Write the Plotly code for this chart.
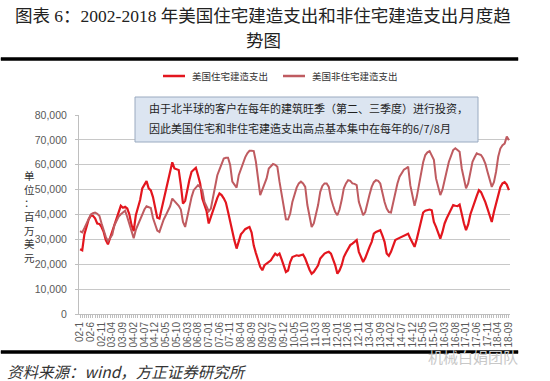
import plotly.graph_objects as go

# ---------------- data (millions of USD, monthly 2002-01 .. 2018-09) ----------------
residential = [
    26000, 25600, 32000, 35500, 38000, 39500, 39500, 38500, 36400, 36200, 35000, 33000,  # 2002
    29700, 28000, 30500, 33000, 35500, 37700, 41000, 43500, 42700, 43100, 42400, 40000,  # 2003
    35700, 33300, 39700, 43000, 45800, 50500, 52000, 53400, 50500, 49700, 47000, 42500,  # 2004
    38700, 38400, 42000, 45800, 50500, 54000, 57000, 61000, 58500, 58200, 57900, 51800,  # 2005
    44400, 45500, 50000, 54000, 57200, 58000, 58800, 55800, 52500, 46400, 43500, 41300,  # 2006
    36400, 39000, 42400, 45000, 46700, 48500, 47800, 46500, 44800, 41100, 37000, 33000,  # 2007
    29500, 26300, 29700, 32000, 33000, 34100, 34600, 35000, 32700, 27500, 24500, 22000,  # 2008
    19000, 17600, 19600, 20300, 20900, 21600, 23000, 24300, 23600, 24300, 22000, 19600,  # 2009
    16900, 17500, 20900, 22900, 23300, 23600, 23400, 23700, 23900, 22300, 19600, 17800,  # 2010
    16200, 16900, 18200, 19600, 22300, 23300, 24300, 24700, 25000, 24300, 22000, 19600,  # 2011
    16200, 17500, 19600, 22900, 24600, 26300, 27700, 28300, 29000, 29700, 25000, 22500,  # 2012
    20900, 22500, 25000, 27000, 29000, 32300, 33000, 33300, 33700, 31500, 29000, 24300,  # 2013
    23400, 25000, 27000, 29700, 30200, 30600, 31200, 31700, 32000, 32300, 30300, 28500,  # 2014
    27000, 30000, 33500, 37000, 40800, 41500, 41700, 42000, 41700, 37000, 35000, 33000,  # 2015
    30300, 33000, 36400, 38500, 40400, 42000, 43800, 43500, 43400, 44000, 39700, 36500,  # 2016
    33700, 36000, 40000, 43000, 45000, 47500, 49800, 49000, 47100, 45000, 42400, 39500,  # 2017
    37000, 41000, 44000, 47100, 51000, 52500, 53000, 52000, 49800,                       # 2018
]

nonresidential = [
    33300, 32800, 34500, 36500, 38500, 40000, 40500, 40800, 40300, 39500, 36500, 33500,  # 2002
    31000, 29300, 30500, 31800, 35700, 37500, 39200, 40100, 40800, 41500, 39000, 36000,  # 2003
    32500, 30500, 33800, 36000, 37900, 40600, 42000, 43300, 43000, 42600, 38600, 35500,  # 2004
    33500, 33000, 35700, 38000, 39700, 41500, 43300, 46400, 45500, 44800, 43500, 42000,  # 2005
    37000, 35000, 39000, 43800, 47000, 49800, 51000, 51800, 51000, 49800, 45100, 43000,  # 2006
    41300, 42400, 47000, 51500, 55800, 58000, 59900, 62500, 62800, 62800, 59900, 53200,  # 2007
    52000, 50800, 55800, 58500, 61200, 63000, 64600, 65600, 65600, 65500, 61200, 54500,  # 2008
    47800, 50000, 52500, 54500, 58500, 59500, 60300, 60000, 59200, 53200, 48500, 43800,  # 2009
    38100, 38000, 40400, 45000, 48500, 50800, 52500, 53200, 52500, 51100, 43800, 39000,  # 2010
    35000, 36400, 40000, 43800, 49100, 51500, 52500, 52500, 51100, 46400, 43500, 41000,  # 2011
    39700, 42000, 45800, 50500, 52500, 53800, 53500, 52500, 52300, 51800, 45100, 42000,  # 2012
    39700, 41000, 45100, 48000, 51100, 53000, 53800, 53500, 52500, 48500, 45000, 42400,  # 2013
    41000, 40800, 45100, 49000, 52500, 55200, 56500, 58000, 58500, 59200, 51800, 47000,  # 2014
    43500, 47000, 52000, 57200, 61000, 63900, 65000, 65500, 64000, 62000, 54500, 50500,  # 2015
    47800, 50000, 53200, 57500, 61200, 64000, 65900, 66600, 66000, 65200, 58500, 54000,  # 2016
    50500, 52500, 56500, 61200, 63000, 64600, 64200, 63900, 62500, 60500, 57200, 54000,  # 2017
    51100, 53000, 57200, 63200, 66500, 67900, 68500, 71300, 69900,                       # 2018
]

tick_labels = [
    "02-1", "02-6", "02-11", "03-04", "03-09", "04-02", "04-07", "04-12", "05-05", "05-10",
    "06-03", "06-08", "07-01", "07-06", "07-11", "08-04", "08-09", "09-02", "09-07", "09-12",
    "10-05", "10-10", "11-03", "11-08", "12-01", "12-06", "12-11", "13-04", "13-09", "14-02",
    "14-07", "14-12", "15-05", "15-10", "16-03", "16-08", "17-01", "17-06", "17-11", "18-04",
    "18-09",
]
tick_step = 5
y_ticks = [0, 10000, 20000, 30000, 40000, 50000, 60000, 70000, 80000]

series_names = ["美国住宅建造支出", "美国非住宅建造支出"]
series_colors = ["#E3161E", "#BF5B60"]
title_lines = ["图表 6：2002-2018 年美国住宅建造支出和非住宅建造支出月度趋", "势图"]
note_lines = ["由于北半球的客户在每年的建筑旺季（第二、三季度）进行投资，",
              "因此美国住宅和非住宅建造支出高点基本集中在每年的6/7/8月"]
y_title = "单<br>位<br>：<br>百<br>万<br>美<br>元"
source_text = "资料来源：wind，方正证券研究所"
watermark_text = "机械白娟团队"

# ---------------- layout geometry (paper = whole 550x381 canvas) ----------------
W, H = 550, 381
PLOT_L, PLOT_R, PLOT_T, PLOT_B = 79, 510, 115, 314
RULE_Y = [59, 352]
RULE_X = [1, 518]


def px_x(px):
    return px / W


def px_y(py):
    return 1 - py / H


x_idx = list(range(len(residential)))
tickvals = [i * tick_step for i in range(len(tick_labels))]

CJK = "Noto Sans CJK SC"
fig = go.Figure()
fig.add_trace(go.Scatter(x=x_idx, y=residential, mode="lines", name=series_names[0],
                         line=dict(color=series_colors[0], width=2.2), showlegend=False))
fig.add_trace(go.Scatter(x=x_idx, y=nonresidential, mode="lines", name=series_names[1],
                         line=dict(color=series_colors[1], width=2), showlegend=False))

fig.update_layout(
    width=W, height=H,
    margin=dict(l=0, r=0, t=0, b=0, autoexpand=False),
    paper_bgcolor="white", plot_bgcolor="white",
    font=dict(family="Liberation Sans, " + CJK, color="#595959"),
)

fig.update_layout(
    xaxis=dict(
        domain=[px_x(PLOT_L), px_x(PLOT_R)],
        range=[-0.5, len(residential) - 0.5],
        tickmode="array", tickvals=tickvals, ticktext=tick_labels,
        tickangle=-90, tickfont=dict(family="Liberation Sans", size=10, color="#595959"),
        ticks="outside", ticklen=3, tickcolor="#BFBFBF",
        minor=dict(tickmode="linear", tick0=0, dtick=1, ticks="outside", ticklen=3,
                   tickcolor="#BFBFBF", showgrid=False),
        showgrid=False, showline=True, linecolor="#BFBFBF", linewidth=1, zeroline=False,
        automargin=False,
    ),
    yaxis=dict(
        domain=[px_y(PLOT_B), px_y(PLOT_T)],
        range=[0, 80000], tickmode="array", tickvals=y_ticks,
        tickformat=",d", tickfont=dict(family="Liberation Sans", size=10.5, color="#595959"),
        ticks="outside", ticklen=3, tickcolor="#BFBFBF", ticklabelstandoff=6,
        showgrid=True, gridcolor="#C8C8C8", gridwidth=1,
        showline=True, linecolor="#BFBFBF", linewidth=1, zeroline=False,
        automargin=False,
    ),
)

shapes = [
    # note box
    dict(type="rect", xref="paper", yref="paper", layer="above",
         x0=px_x(135), x1=px_x(478), y0=px_y(142), y1=px_y(97),
         fillcolor="#DCE5F1", line=dict(color="#9AAAC0", width=1)),
]
# document rules above the chart and above the source line
for ry in RULE_Y:
    shapes.append(dict(type="rect", xref="paper", yref="paper", layer="above",
                       x0=px_x(RULE_X[0]), x1=px_x(RULE_X[1]),
                       y0=px_y(ry + 1.5), y1=px_y(ry - 1.5),
                       fillcolor="black", line=dict(color="black", width=0.5)))
# manual legend samples
legend_x = [163, 283]
for i, name in enumerate(series_names):
    shapes.append(dict(type="line", xref="paper", yref="paper", layer="above",
                       x0=px_x(legend_x[i]), x1=px_x(legend_x[i] + 22),
                       y0=px_y(76), y1=px_y(76),
                       line=dict(color=series_colors[i], width=2.5)))
fig.update_layout(shapes=shapes)

title_font = dict(family="Liberation Serif, " + CJK, size=17.5, color="#222222")
note_font = dict(family=CJK, size=11, color="#1F1F1F")
annotations = [
    dict(text=title_lines[0], xref="paper", yref="paper", x=px_x(263), y=px_y(16),
         xanchor="center", yanchor="middle", showarrow=False, font=title_font),
    dict(text=title_lines[1], xref="paper", yref="paper", x=px_x(263), y=px_y(41),
         xanchor="center", yanchor="middle", showarrow=False, font=title_font),
    dict(text=note_lines[0], xref="paper", yref="paper", x=px_x(147), y=px_y(108),
         xanchor="left", yanchor="middle", showarrow=False, font=note_font),
    dict(text=note_lines[1], xref="paper", yref="paper", x=px_x(147), y=px_y(128),
         xanchor="left", yanchor="middle", showarrow=False, font=note_font),
    dict(text=y_title, xref="paper", yref="paper", x=px_x(29), y=px_y(216),
         xanchor="center", yanchor="middle", showarrow=False, align="center",
         font=dict(family=CJK, size=10.5, color="#333333")),
    dict(text="<i>" + source_text + "</i>", xref="paper", yref="paper", x=px_x(5), y=px_y(371),
         xanchor="left", yanchor="middle", showarrow=False, align="left",
         font=dict(family=CJK, size=15.5, color="#333333")),
    dict(text=watermark_text, xref="paper", yref="paper", x=px_x(473), y=px_y(356),
         xanchor="center", yanchor="middle", showarrow=False,
         font=dict(family=CJK, size=15, color="#C8C8C8")),
]
for i, name in enumerate(series_names):
    annotations.append(dict(text=name, xref="paper", yref="paper",
                            x=px_x(legend_x[i] + 27), y=px_y(76),
                            xanchor="left", yanchor="middle", showarrow=False,
                            font=dict(family=CJK, size=9.5, color="#333333")))
fig.update_layout(annotations=annotations)

fig.write_html("out.html", config={"displayModeBar": False},
               post_script="document.body.style.margin='0';document.body.style.padding='0';")
